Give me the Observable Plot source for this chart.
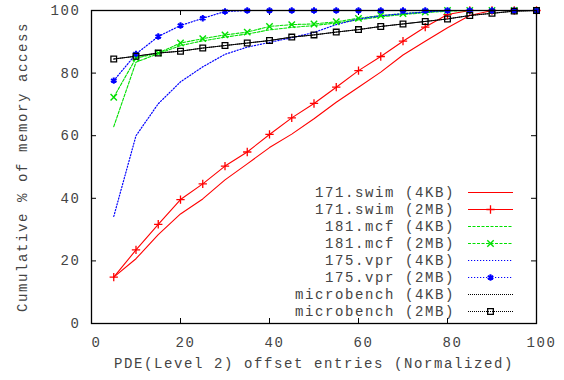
<!DOCTYPE html>
<html>
<head>
<meta charset="utf-8">
<script src="https://cdn.jsdelivr.net/npm/d3@7"></script>
<script src="https://cdn.jsdelivr.net/npm/@observablehq/plot@0.6"></script>
<style>
  html, body { margin: 0; padding: 0; background: #fff; }
  svg text { font-family: "Liberation Mono", "DejaVu Sans Mono", monospace; }
</style>
</head>
<body>
<div id="chart"></div>
<script>
// ---- data ----
const xs = [5,10,15,20,25,30,35,40,45,50,55,60,65,70,75,80,85,90,95,100];
const swim4KB  = [14.8,20.7,28.4,35.0,39.8,45.9,51.0,56.2,60.5,65.4,70.7,75.5,80.3,85.8,90.2,94.5,98.4,100,100,100];
const swim2MB  = [14.8,23.5,31.7,39.6,44.6,50.3,54.8,60.4,65.7,70.3,75.5,80.8,85.3,90.2,94.7,98.7,100,100,100,100];
const mcf4KB   = [62.9,83.5,86.2,88.8,90.3,91.5,92.5,93.8,94.6,95.2,96.0,97.0,98.0,98.7,99.3,99.8,100,100,100,100];
const mcf2MB   = [72.3,84.8,86.4,89.6,91.0,92.2,93.1,94.9,95.5,95.7,96.4,97.5,98.4,99.0,99.5,100,100,100,100,100];
const vpr4KB   = [34.2,60.0,70.2,77.2,82.0,86.0,88.3,89.8,91.3,93.0,95.5,97.3,98.3,99.0,99.5,100,100,100,100,100];
const vpr2MB   = [77.6,86.1,91.7,95.2,97.5,99.7,100,100,100,100,100,100,100,100,100,100,100,100,100,100];
const micro4KB = [84.5,85.4,86.4,87.0,88.0,88.8,89.6,90.4,91.5,92.2,93.1,93.9,94.9,95.7,96.5,97.3,98.4,99.1,99.8,100];
const micro2MB = [84.5,85.4,86.4,87.0,88.0,88.8,89.6,90.4,91.5,92.2,93.1,93.9,94.9,95.7,96.5,97.3,98.4,99.1,99.8,100];
const seriesNames = ["171.swim (4KB)","171.swim (2MB)","181.mcf (4KB)","181.mcf (2MB)",
                     "175.vpr (4KB)","175.vpr (2MB)","microbench (4KB)","microbench (2MB)"];
const xTicks = [0,20,40,60,80,100];
const yTicks = [0,20,40,60,80,100];
const xLabel = "PDE(Level 2) offset entries (Normalized)";
const yLabel = "Cumulative % of memory access";

// ---- styles ----
const RED = "#ff0000", GREEN = "#00e000", BLUE = "#0000ff", BLACK = "#000000";
const TEXT = "#444";
const styles = [
  {stroke: RED,   dash: null,    width: 1.1, symbol: null},
  {stroke: RED,   dash: null,    width: 1.1, symbol: "plus"},
  {stroke: GREEN, dash: "3,1.5", width: 1.1, symbol: null},
  {stroke: GREEN, dash: "3,1.5", width: 1.1, symbol: "times"},
  {stroke: BLUE,  dash: "1.2,1.8", width: 1.2, symbol: null},
  {stroke: BLUE,  dash: "1.2,1.8", width: 1.2, symbol: "asterisk"},
  {stroke: BLACK, dash: "1,1",   width: 1.0, symbol: null},
  {stroke: BLACK, dash: "1,1",   width: 1.0, symbol: "square"}
];
const symR = {plus: 2.8, times: 3.0, asterisk: 3.0, square: 3.2};
const symW = {plus: 1.3, times: 1.4, asterisk: 2.0, square: 1.3};
const values = [swim4KB, swim2MB, mcf4KB, mcf2MB, vpr4KB, vpr2MB, micro4KB, micro2MB];
const tables = values.map((vals, i) => xs.map((x, j) => ({x, y: vals[j], s: seriesNames[i]})));

const W = 564, H = 380, ML = 91, MR = 28, MT = 10, MB = 57;
const PW = W - ML - MR, PH = H - MT - MB;
const TICK = 5;
const FONT = "Liberation Mono, DejaVu Sans Mono, monospace";

const marks = [];
tables.forEach((t, i) => {
  const st = styles[i];
  marks.push(Plot.line(t, {x: "x", y: "y", stroke: st.stroke, strokeWidth: st.width,
    strokeDasharray: st.dash || undefined}));
});
tables.forEach((t, i) => {
  const st = styles[i];
  if (st.symbol) {
    marks.push(Plot.dot(t, {x: "x", y: "y", symbol: st.symbol, stroke: st.stroke,
      fill: "none", r: symR[st.symbol], strokeWidth: symW[st.symbol]}));
  }
});

const chart = Plot.plot({
  width: W, height: H,
  marginLeft: ML, marginRight: MR, marginTop: MT, marginBottom: MB,
  style: {fontFamily: FONT, fontSize: "14px", color: TEXT, background: "#fff"},
  x: {domain: [0, 100]},
  y: {domain: [0, 100]},
  marks: [
    // inward ticks on all four sides
    Plot.tickX(xTicks.slice(1, -1), {x: d => d, insetTop: PH - TICK, stroke: "black"}),
    Plot.tickX(xTicks.slice(1, -1), {x: d => d, insetBottom: PH - TICK, stroke: "black"}),
    Plot.tickY(yTicks.slice(1, -1), {y: d => d, insetRight: PW - TICK, stroke: "black"}),
    Plot.tickY(yTicks.slice(1, -1), {y: d => d, insetLeft: PW - TICK, stroke: "black"}),
    Plot.axisX(xTicks, {tickSize: 0, tickPadding: 14, dx: 5, label: null, fontSize: 14, fill: TEXT}),
    Plot.axisY(yTicks, {tickSize: 0, tickPadding: 11, label: null, fontSize: 14, fill: TEXT}),
    ...marks,
    Plot.frame({stroke: "black", strokeWidth: 1.3}),
    Plot.text([xLabel], {frameAnchor: "bottom", dy: 44, fontSize: 14, fill: TEXT}),
    Plot.text([yLabel], {frameAnchor: "left", textAnchor: "middle", dx: -69, rotate: -90, fontSize: 14, fill: TEXT})
  ]
});

// letter spacing to mimic the wide Courier-like font
d3.select(chart).selectAll("text").style("letter-spacing", "1.6px");

// ---- legend (inside the frame, lower right) ----
const svg = d3.select(chart);
const lg = svg.append("g");
const textRight = 455, lineX1 = 468, lineX2 = 513, row0 = 192.5, rowH = 17;
const symMap = {plus: d3.symbolPlus, times: d3.symbolTimes, asterisk: d3.symbolAsterisk, square: d3.symbolSquare};
seriesNames.forEach((name, i) => {
  const st = styles[i];
  const y = row0 + i * rowH;
  lg.append("text").attr("x", textRight).attr("y", y).attr("text-anchor", "end")
    .attr("dy", "0.35em").attr("font-size", 14).attr("fill", TEXT)
    .style("font-family", FONT).style("letter-spacing", "1.6px").text(name);
  lg.append("line").attr("x1", lineX1).attr("x2", lineX2).attr("y1", y).attr("y2", y)
    .attr("stroke", st.stroke).attr("stroke-width", st.width)
    .attr("stroke-dasharray", st.dash);
  if (st.symbol) {
    const r = symR[st.symbol];
    lg.append("path").attr("d", d3.symbol(symMap[st.symbol], Math.PI * r * r)())
      .attr("transform", `translate(${(lineX1 + lineX2) / 2},${y})`)
      .attr("fill", "none").attr("stroke", st.stroke)
      .attr("stroke-width", symW[st.symbol]);
  }
});

document.getElementById("chart").appendChild(chart);
</script>
</body>
</html>
